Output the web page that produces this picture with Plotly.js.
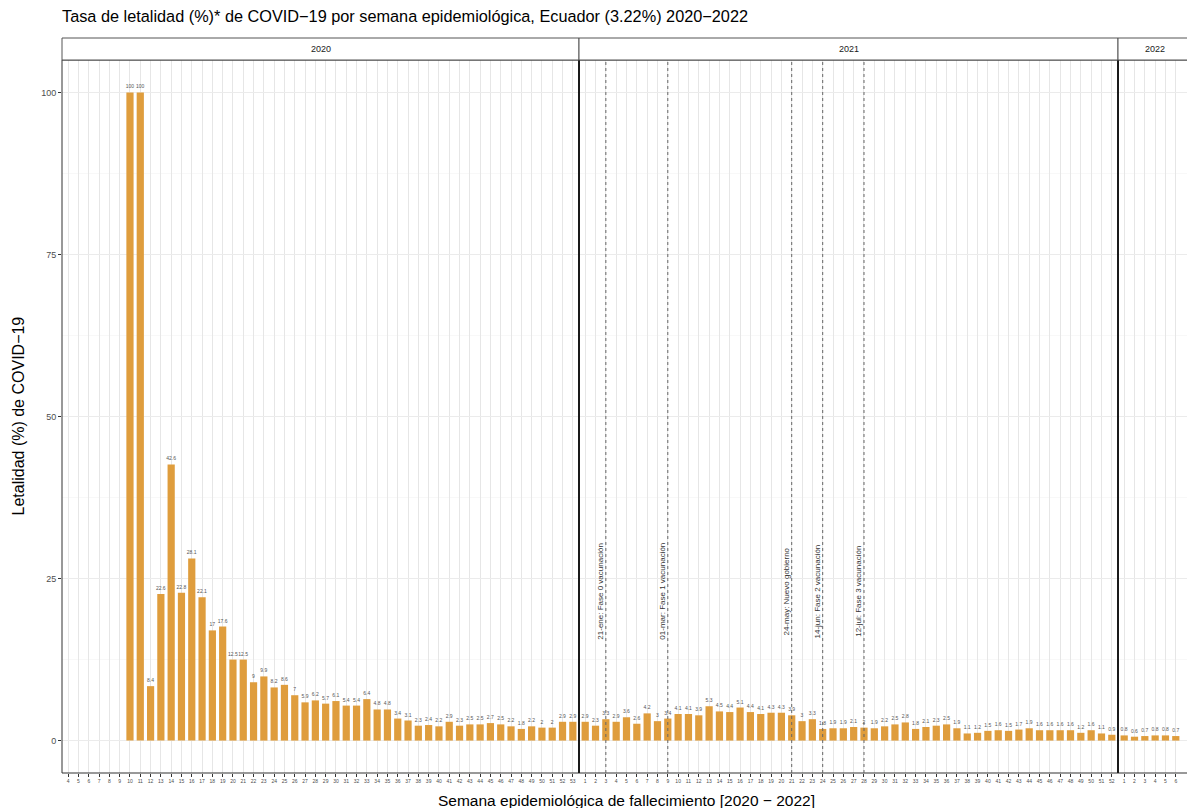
<!DOCTYPE html>
<html>
<head>
<meta charset="utf-8">
<script src="https://cdn.plot.ly/plotly-3.0.1.min.js"></script>
<style>
  html, body { margin: 0; padding: 0; background: #ffffff; }
  #chart { width: 1187px; height: 808px; }
</style>
</head>
<body>
<div id="chart"></div>
<script>
// Semanas epidemiológicas mostradas en cada panel (eje x)
const ejeSemanas2020 = [4, 5, 6, 7, 8, 9, 10, 11, 12, 13, 14, 15, 16, 17, 18, 19, 20, 21, 22, 23, 24, 25, 26, 27, 28,
  29, 30, 31, 32, 33, 34, 35, 36, 37, 38, 39, 40, 41, 42, 43, 44, 45, 46, 47, 48, 49, 50, 51, 52, 53];
const ejeSemanas2021 = [1, 2, 3, 4, 5, 6, 7, 8, 9, 10, 11, 12, 13, 14, 15, 16, 17, 18, 19, 20, 21, 22, 23, 24, 25, 26,
  27, 28, 29, 30, 31, 32, 33, 34, 35, 36, 37, 38, 39, 40, 41, 42, 43, 44, 45, 46, 47, 48, 49, 50, 51, 52];
const ejeSemanas2022 = [1, 2, 3, 4, 5, 6];

// Semanas con fallecimientos y tasa de letalidad (%) por semana
const semanas2020 = [10, 11, 12, 13, 14, 15, 16, 17, 18, 19, 20, 21, 22, 23, 24, 25, 26, 27, 28, 29, 30, 31,
  32, 33, 34, 35, 36, 37, 38, 39, 40, 41, 42, 43, 44, 45, 46, 47, 48, 49, 50, 51, 52, 53];
const letalidad2020 = [100, 100, 8.4, 22.6, 42.6, 22.8, 28.1, 22.1, 17.0, 17.6, 12.5, 12.5, 9.0, 9.9, 8.2, 8.6,
  7.0, 5.9, 6.2, 5.7, 6.1, 5.4, 5.4, 6.4, 4.8, 4.8, 3.4, 3.1, 2.3, 2.4, 2.2, 2.9, 2.3, 2.5, 2.5, 2.7, 2.5,
  2.2, 1.8, 2.2, 2.0, 2.0, 2.9, 2.9];

const semanas2021 = ejeSemanas2021;
const letalidad2021 = [2.9, 2.3, 3.3, 2.9, 3.6, 2.6, 4.2, 3.0, 3.4, 4.1, 4.1, 3.9, 5.3, 4.5, 4.4, 5.1, 4.4,
  4.1, 4.3, 4.3, 3.9, 3.0, 3.3, 1.8, 1.9, 1.9, 2.1, 2.0, 1.9, 2.2, 2.5, 2.8, 1.8, 2.1, 2.3, 2.5, 1.9, 1.1,
  1.2, 1.5, 1.6, 1.5, 1.7, 1.9, 1.6, 1.6, 1.6, 1.6, 1.2, 1.6, 1.1, 0.9];

const semanas2022 = ejeSemanas2022;
const letalidad2022 = [0.8, 0.6, 0.7, 0.8, 0.8, 0.7];

// Hitos marcados en 2021 (semana epidemiológica y texto)
const hitosSemana = [3, 9, 21, 24, 28];
const hitosTexto = [
  '21-ene: Fase 0 vacunación',
  '01-mar: Fase 1 vacunación',
  '24-may: Nuevo gobierno',
  '14-jun: Fase 2 vacunación',
  '12-jul: Fase 3 vacunación'
];

const anios = ['2020', '2021', '2022'];

// ---- geometría de los paneles (px) ----
const W = 1187, H = 808;
const M = { l: 62, r: 0, t: 60, b: 35 };
const plotW = W - M.l - M.r;
const plotH = H - M.t - M.b;
const borde1 = (579 - M.l) / plotW;
const borde2 = (1118 - M.l) / plotW;
const pxSemana = 10.32;
const fin2022 = 0.4 + (W - 1118) / pxSemana;

const colorBarra = '#DF9D3D';
const fuente = 'Liberation Sans, Arial, sans-serif';

function etiqueta(v) { return String(v); }

function trazaBarras(x, y, ejeX, ejeY) {
  return {
    type: 'bar', x: x, y: y, xaxis: ejeX, yaxis: ejeY,
    width: 0.7,
    marker: { color: colorBarra, line: { width: 0 } },
    text: y.map(etiqueta),
    textposition: 'outside',
    constraintext: 'none',
    cliponaxis: false,
    textfont: { size: 5, color: '#555555', family: fuente },
    showlegend: false,
    hovertemplate: 'Semana %{x}<br>%{y}%<extra></extra>'
  };
}

const data = [
  trazaBarras(semanas2020, letalidad2020, 'x', 'y'),
  trazaBarras(semanas2021, letalidad2021, 'x2', 'y2'),
  trazaBarras(semanas2022, letalidad2022, 'x3', 'y3')
];

function ejeX(dominio, rango, semanas, anchor) {
  return {
    domain: dominio, range: rango, anchor: anchor,
    tickmode: 'array', tickvals: semanas, ticktext: semanas.map(String),
    tickfont: { size: 5, color: '#4d4d4d', family: fuente },
    ticks: 'outside', ticklen: 3, tickcolor: '#333333', tickwidth: 1,
    showgrid: true, gridcolor: '#e6e6e6', gridwidth: 1,
    zeroline: false, showline: false, fixedrange: true
  };
}

function ejeY(anchor, conEtiquetas) {
  return {
    domain: [0, 1], range: [-5, 105], anchor: anchor,
    tickmode: 'array', tickvals: [0, 25, 50, 75, 100],
    showticklabels: conEtiquetas,
    ticks: conEtiquetas ? 'outside' : '', ticklen: 3, tickcolor: '#333333',
    tickfont: { size: 9, color: '#4d4d4d', family: fuente },
    showgrid: true, gridcolor: '#ebebeb', gridwidth: 1,
    minor: { dtick: 12.5, showgrid: true, gridcolor: '#f3f3f3', gridwidth: 0.6 },
    zeroline: false, showline: false, fixedrange: true
  };
}

const shapes = [];
// marcos de los paneles
[['x domain', 'y domain', 1], ['x2 domain', 'y2 domain', 1], ['x3 domain', 'y3 domain', 1.3]].forEach(function (p) {
  shapes.push({ type: 'rect', xref: p[0], yref: p[1], x0: 0, x1: p[2], y0: 0, y1: 1,
    line: { color: '#333333', width: 1 }, fillcolor: 'rgba(0,0,0,0)', layer: 'above' });
});
// separaciones entre años
[borde1, borde2].forEach(function (b) {
  shapes.push({ type: 'line', xref: 'paper', yref: 'paper', x0: b, x1: b, y0: 0, y1: 1,
    line: { color: '#1a1a1a', width: 2 }, layer: 'above' });
});
// franjas de los años
const franjaY1 = 1 + (M.t - 38) / plotH;
[[0, borde1], [borde1, borde2], [borde2, 1.1]].forEach(function (d) {
  shapes.push({ type: 'rect', xref: 'paper', yref: 'paper', x0: d[0], x1: d[1], y0: 1, y1: franjaY1,
    line: { color: '#555555', width: 1 }, fillcolor: '#ffffff', layer: 'above' });
});
// líneas de hitos 2021
hitosSemana.forEach(function (s) {
  shapes.push({ type: 'line', xref: 'x2', yref: 'y2 domain', x0: s, x1: s, y0: 0, y1: 1,
    line: { color: '#666666', width: 1, dash: 'dot' }, layer: 'above' });
});

const annotations = [];
const centrosFranja = [borde1 / 2, (borde1 + borde2) / 2, (1155 - M.l) / plotW];
anios.forEach(function (a, i) {
  annotations.push({ text: a, xref: 'paper', yref: 'paper', x: centrosFranja[i], y: (1 + franjaY1) / 2,
    showarrow: false, xanchor: 'center', yanchor: 'middle',
    font: { size: 9, color: '#1a1a1a', family: fuente } });
});
hitosSemana.forEach(function (s, i) {
  annotations.push({ text: hitosTexto[i], xref: 'x2', yref: 'y2', x: s - 0.55, y: 23,
    textangle: -90, showarrow: false, xanchor: 'center', yanchor: 'middle',
    font: { size: 8, color: '#333333', family: fuente } });
});
annotations.push({ text: 'Letalidad (%) de COVID−19', xref: 'paper', yref: 'paper',
  x: (18 - M.l) / plotW, y: 0.5, textangle: -90, showarrow: false,
  xanchor: 'center', yanchor: 'middle', font: { size: 16, color: '#000000', family: fuente } });
annotations.push({ text: 'Semana epidemiológica de fallecimiento [2020 − 2022]', xref: 'paper', yref: 'paper',
  x: (626 - M.l) / plotW, y: -(800 - (H - M.b)) / plotH, showarrow: false,
  xanchor: 'center', yanchor: 'middle', font: { size: 15.5, color: '#000000', family: fuente } });

const layout = {
  width: W, height: H,
  margin: M,
  paper_bgcolor: '#ffffff', plot_bgcolor: '#ffffff',
  font: { family: fuente, color: '#000000' },
  title: {
    text: 'Tasa de letalidad (%)* de COVID−19 por semana epidemiológica, Ecuador (3.22%) 2020−2022',
    x: 0, xanchor: 'left', xref: 'paper', y: 1 - 16 / H, yanchor: 'middle', yref: 'container',
    font: { size: 16.3, color: '#000000', family: fuente }
  },
  xaxis: ejeX([0, borde1], [3.4, 53.6], ejeSemanas2020, 'y'),
  xaxis2: ejeX([borde1, borde2], [0.4, 52.6], ejeSemanas2021, 'y2'),
  xaxis3: ejeX([borde2, 1], [0.4, fin2022], ejeSemanas2022, 'y3'),
  yaxis: ejeY('x', true),
  yaxis2: ejeY('x2', false),
  yaxis3: ejeY('x3', false),
  shapes: shapes,
  annotations: annotations
};

Plotly.newPlot('chart', data, layout, { displayModeBar: false, staticPlot: true });
</script>
</body>
</html>
